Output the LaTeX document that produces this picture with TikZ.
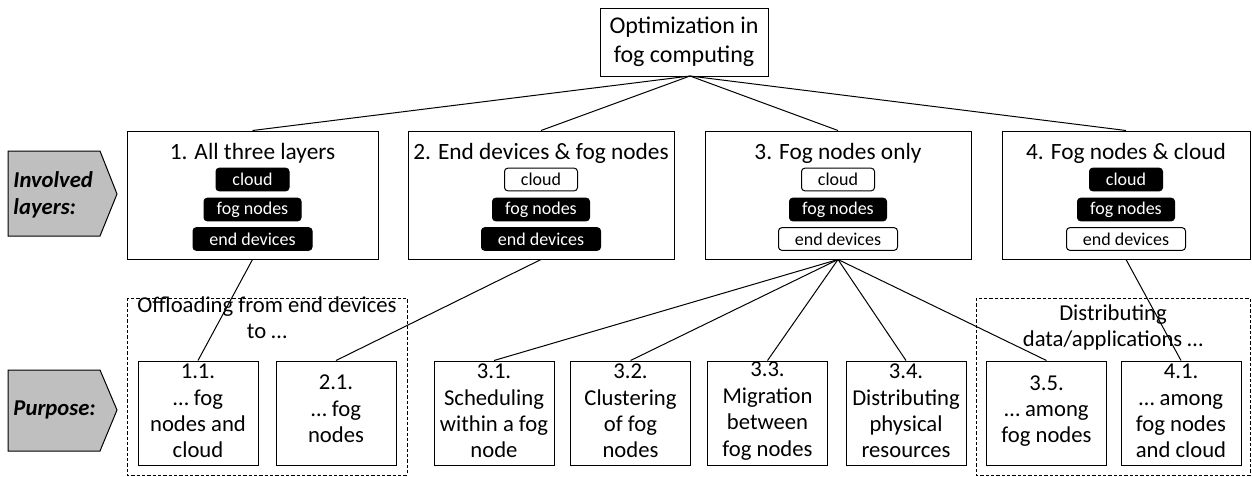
\documentclass[tikz,border=0pt]{standalone}
\usepackage{fontspec}
\setmainfont{Carlito}
\begin{document}
\begin{tikzpicture}[x=0.75pt,y=-0.75pt,line width=0.75pt,
  rootbox/.style={draw,fill=white,inner sep=0pt,align=center,minimum width=126pt,minimum height=51pt,font=\fontsize{18}{21.5}\selectfont},
  layerbox/.style={draw,fill=white,inner sep=0pt,minimum height=96pt},
  head/.style={inner sep=0pt,font=\fontsize{17.5}{21}\selectfont},
  chipon/.style={draw=black,fill=black,text=white,rounded corners=2.5pt,inner sep=0pt,minimum height=17pt,font=\fontsize{13.5}{16}\selectfont},
  chipoff/.style={draw=black,fill=white,text=black,rounded corners=2.5pt,inner sep=0pt,minimum height=17pt,font=\fontsize{13.5}{16}\selectfont},
  wcloud/.style={minimum width=54.75pt},
  wfog/.style={minimum width=72.75pt},
  wend/.style={minimum width=89.25pt},
  purpbox/.style={draw,fill=white,inner sep=0pt,minimum width=90pt,minimum height=78pt},
  purptext/.style={inner sep=0pt,align=center,font=\fontsize{17}{19.8}\selectfont},
  grouptext/.style={inner sep=0pt,align=center,font=\fontsize{17}{19.5}\selectfont},
  groupbox/.style={draw,dash pattern=on 2.5pt off 1.5pt},
  tag/.style={draw,fill=black!25,line width=0.75pt},
  tagtext/.style={inner sep=0pt,align=left,font=\fontsize{17}{20}\selectfont\bfseries\itshape},
  conn/.style={draw,line width=0.75pt}]
\useasboundingbox (0,0) rectangle (1252,476);

% dashed groups
\draw[groupbox] (127,298) rectangle (407,475);
\draw[groupbox] (976,298) rectangle (1250,475);
\node[grouptext] (g1) at (267,318) {Offloading from end devices\\to …};
\node[grouptext] (g2) at (1113,327) {Distributing\\data/applications …};

% root
\node[rootbox] (root) at (684,42) {Optimization in\\fog computing};
\coordinate (apex) at (690,76);

% layer boxes
\node[layerbox,minimum width=188.25pt] (L1) at (252.5,195) {};
\node[layerbox,minimum width=199.5pt] (L2) at (541,195) {};
\node[layerbox,minimum width=199.5pt] (L3) at (838,195) {};
\node[layerbox,minimum width=186pt] (L4) at (1126,195) {};

\node[head] (h1) at (252.5,153) {1. All three layers};
\node[head] (h2) at (541,153) {2. End devices \& fog nodes};
\node[head] (h3) at (838,153) {3. Fog nodes only};
\node[head] (h4) at (1126,153) {4. Fog nodes \& cloud};

\node[chipon,wcloud] (c1) at (252.5,179.5) {cloud};
\node[chipon,wfog] (f1) at (252.5,209.5) {fog nodes};
\node[chipon,wend] (e1) at (252.5,239) {end devices};

\node[chipoff,wcloud] (c2) at (541,179.5) {cloud};
\node[chipon,wfog] (f2) at (541,209.5) {fog nodes};
\node[chipon,wend] (e2) at (541,239) {end devices};

\node[chipoff,wcloud] (c3) at (838,179.5) {cloud};
\node[chipon,wfog] (f3) at (838,209.5) {fog nodes};
\node[chipoff,wend] (e3) at (838,239) {end devices};

\node[chipon,wcloud] (c4) at (1126,179.5) {cloud};
\node[chipon,wfog] (f4) at (1126,209.5) {fog nodes};
\node[chipoff,wend] (e4) at (1126,239) {end devices};

% tags
\draw[tag] (8,151) -- (100,151) -- (117,194) -- (100,236) -- (8,236) -- cycle;
\node[tagtext,anchor=west] (t1) at (13,195) {Involved\\layers:};
\draw[tag] (8,370) -- (100,370) -- (117,410) -- (100,451) -- (8,451) -- cycle;
\node[tagtext,anchor=west] (t2) at (13,410) {Purpose:};

% purpose boxes
\node[purpbox] (p11) at (198,413) {};
\node[purpbox] (p21) at (336,413) {};
\node[purpbox] (p31) at (494,413) {};
\node[purpbox] (p32) at (630.5,413) {};
\node[purpbox] (p33) at (767.5,413) {};
\node[purpbox] (p34) at (906,413) {};
\node[purpbox] (p35) at (1046.5,413) {};
\node[purpbox] (p41) at (1181,413) {};

\node[purptext] (p11t) at (198,411) {1.1.\\… fog\\nodes and\\cloud};
\node[purptext] (p21t) at (336,409) {2.1.\\… fog\\nodes};
\node[purptext] (p31t) at (494,411) {3.1.\\Scheduling\\within a fog\\node};
\node[purptext] (p32t) at (630.5,411) {3.2.\\Clustering\\of fog\\nodes};
\node[purptext] (p33t) at (767.5,411) {3.3.\\Migration\\between\\fog nodes};
\node[purptext] (p34t) at (906,411) {3.4.\\Distributing\\physical\\resources};
\node[purptext] (p35t) at (1046.5,411) {3.5.\\… among\\fog nodes};
\node[purptext] (p41t) at (1181,411) {4.1.\\… among\\fog nodes\\and cloud};

% connectors
\draw[conn] (apex) -- (L1.north);
\draw[conn] (apex) -- (L2.north);
\draw[conn] (apex) -- (L3.north);
\draw[conn] (apex) -- (L4.north);
\draw[conn] (L1.south) -- (p11.north);
\draw[conn] (L2.south) -- (p21.north);
\draw[conn] (L3.south) -- (p31.north);
\draw[conn] (L3.south) -- (p32.north);
\draw[conn] (L3.south) -- (p33.north);
\draw[conn] (L3.south) -- (p34.north);
\draw[conn] (L3.south) -- (p35.north);
\draw[conn] (L4.south) -- (p41.north);
\end{tikzpicture}
\end{document}
